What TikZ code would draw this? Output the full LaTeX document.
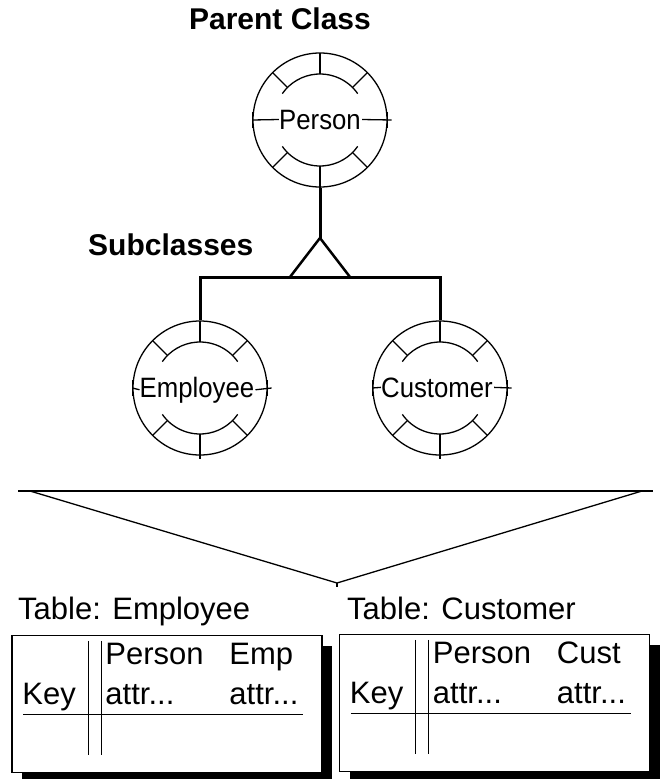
\documentclass[tikz,border=0pt]{standalone}
\usepackage{fontspec}
\setmainfont{Liberation Sans}
\usetikzlibrary{shadows}

\begin{document}
\begin{tikzpicture}[x=1pt, y=1pt,
  classcircle/.style={circle, draw, line width=1.3pt, minimum size=134pt, inner sep=0pt},
  classname/.style={inner sep=0pt, anchor=base, font=\fontsize{28}{30}\selectfont\addfontfeature{FakeStretch=0.92}},
  heading/.style={inner sep=0pt, font=\fontsize{30}{34}\selectfont\bfseries},
  tablename/.style={inner sep=0pt, anchor=base west, font=\fontsize{31}{34}\selectfont},
  celltext/.style={inner sep=0pt, anchor=base west, font=\fontsize{31}{34}\selectfont},
  tablebox/.style={draw, fill=white, line width=1.5pt, minimum width=310pt, minimum height=137pt, inner sep=0pt,
    drop shadow={shadow xshift=10pt, shadow yshift=-10pt, fill=black, opacity=1}},
  link/.style={line width=3pt},
  plain/.style={line width=1.3pt}]

\useasboundingbox (0,0) rectangle (662,-779);

\node [heading, anchor=base] (parenttitle) at (280,-29) {Parent Class};
\node [heading, anchor=base west] (subtitle) at (88,-255) {Subclasses};

\node [classcircle] (person) at (320,-120) {};
\node [classcircle] (employee) at (200,-388) {};
\node [classcircle] (customer) at (440,-388) {};

\node [classname] (person-name) at ([yshift=-9] person.center) {Person};
\node [classname] (employee-name) at ([xshift=-3, yshift=-9] employee.center) {Employee};
\node [classname] (customer-name) at ([xshift=-3, yshift=-9] customer.center) {Customer};

\foreach \c in {person, employee, customer}
{
  \draw [plain, shift={(\c.center)}] (35:46) arc (35:145:46);
  \draw [plain, shift={(\c.center)}] (215:46) arc (215:325:46);
  \foreach \a in {45,90,135,225,315}
    \draw [plain, shift={(\c.center)}] (\a:46) -- (\a:67);
  \draw [plain, shift={(\c.center)}] (270:46) -- (270:71);
  \draw [plain] ([yshift=8] \c.west) -- ([yshift=-8] \c.west);
  \draw [plain] ([yshift=8] \c.east) -- ([yshift=-8] \c.east);
  \draw [plain] (\c.west) -- (\c-name.west);
  \draw [plain] ([xshift=1] \c-name.east) -- ([xshift=4] \c.east);
}

\coordinate (apex) at (320,-238);
\coordinate (wedgeleft) at (290,-277);
\coordinate (wedgeright) at (350,-277);
\coordinate (forkleft) at (200,-277);
\coordinate (forkright) at (440,-277);

\draw [link] (person.south) -- (apex);
\draw [line width=2.5pt] (wedgeleft) -- (apex) -- (wedgeright);
\draw [link, line join=miter] (employee.north) -- (forkleft) -- (forkright) -- (customer.north);

\coordinate (funnelleft) at (18,-491);
\coordinate (funnelright) at (653,-491);
\coordinate (funneltip) at (337,-583);

\draw [line width=2pt] (funnelleft) -- (funnelright);
\draw [plain] ([xshift=12] funnelleft) -- (funneltip) -- ([xshift=-11] funnelright);
\draw [plain] (funneltip) -- ++(0,-4);

\node [tablename] (emptitle) at (18,-619) {Table: Employee};
\node [tablename] (custtitle) at (347,-619) {Table: Customer};

\node [tablebox] (emptable) at (167,-704) {};
\node [tablebox] (custtable) at (494.5,-703) {};

\foreach \t/\extra in {emptable/Emp, custtable/Cust}
{
  \draw [plain] ([shift={(77,-6)}] \t.north west) -- ([shift={(77,-120)}] \t.north west);
  \draw [plain] ([shift={(90,-6)}] \t.north west) -- ([shift={(90,-120)}] \t.north west);
  \draw [plain] ([shift={(12,-80)}] \t.north west) -- ([shift={(292,-80)}] \t.north west);
  \node [celltext] (\t-key) at ([shift={(11,-70)}] \t.north west) {Key};
  \node [celltext] (\t-person) at ([shift={(94,-30)}] \t.north west) {Person};
  \node [celltext] (\t-extra) at ([shift={(218,-30)}] \t.north west) {\extra};
  \node [celltext] (\t-pattr) at ([shift={(94,-70)}] \t.north west) {attr...};
  \node [celltext] (\t-xattr) at ([shift={(218,-70)}] \t.north west) {attr...};
}
\end{tikzpicture}
\end{document}
